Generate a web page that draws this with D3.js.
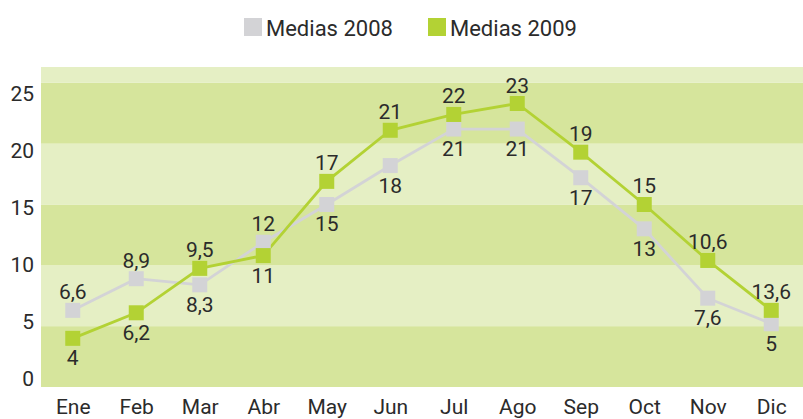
<!DOCTYPE html>
<html><head><meta charset="utf-8">
<script src="https://cdn.jsdelivr.net/npm/d3@7"></script>
<style>
html,body{margin:0;padding:0;background:#fff;}
svg{display:block;font-family:Roboto, "DejaVu Sans", sans-serif;}
</style></head>
<body>
<svg id="chart" width="803" height="419"></svg>
<script>
const months = ["Ene","Feb","Mar","Abr","May","Jun","Jul","Ago","Sep","Oct","Nov","Dic"];
const seriesNames = ["Medias 2008","Medias 2009"];
const values2008 = [6.3, 8.9, 8.4, 11.9, 15, 18.2, 21.2, 21.2, 17.2, 13, 7.3, 5.2];
const values2009 = [4.0, 6.1, 9.75, 10.8, 16.9, 21.1, 22.4, 23.3, 19.3, 15, 10.4, 6.3];
const labels2008 = ["6,6","8,9","8,3","12","15","18","21","21","17","13","7,6","5"];
const labels2009 = ["4","6,2","9,5","11","17","21","22","23","19","15","10,6","13,6"];
const yTicks = [0, 5, 10, 15, 20, 25];

const colors = ["#d3d3d6", "#b3d234"];
const bandDark = "#d6e59c", bandLight = "#e5efc4";
const textColor = "#2b2b2b";

const svg = d3.select("#chart");
const pLeft = 41, pRight = 803, pTop = 67, pBottom = 387;

const x = d3.scalePoint().domain(months).range([pLeft, pRight]).padding(0.5);
const y = d3.scaleLinear().domain([0, 26.3]).range([pBottom, pTop]);
const yLab = d3.scaleLinear().domain([0, 25]).range([378, 93]);

// bands
const bandEdges = yTicks.map((t, i) => [t, i < yTicks.length - 1 ? yTicks[i + 1] : y.domain()[1]]);
svg.append("g").selectAll("rect").data(bandEdges).join("rect")
  .attr("x", pLeft).attr("width", pRight - pLeft)
  .attr("y", d => y(d[1])).attr("height", d => y(d[0]) - y(d[1]))
  .attr("fill", (d, i) => i % 2 === 0 ? bandDark : bandLight);

// y axis labels
const yAxis = d3.axisLeft(yLab).tickValues(yTicks).tickSize(0).tickPadding(0);
const gy = svg.append("g").attr("transform", "translate(34,0)").call(yAxis);
gy.select(".domain").remove();
gy.selectAll("text").attr("font-size", 21).attr("fill", textColor)
  .attr("font-family", "Roboto, sans-serif").attr("dy", "0.36em");

// x axis labels
const xAxis = d3.axisBottom(x).tickSize(0).tickPadding(0);
const gx = svg.append("g").attr("transform", "translate(0,414)").call(xAxis);
gx.select(".domain").remove();
gx.selectAll("text").attr("font-size", 21).attr("fill", textColor)
  .attr("font-family", "Roboto, sans-serif").attr("dy", "0");

const series = [
  {name: seriesNames[0], values: values2008, labels: labels2008, other: values2009, color: colors[0]},
  {name: seriesNames[1], values: values2009, labels: labels2009, other: values2008, color: colors[1]}
];

const line = d3.line().x((d, i) => x(months[i])).y(d => y(d));
const ms = 15;

series.forEach(s => {
  svg.append("path").datum(s.values)
    .attr("d", line).attr("fill", "none")
    .attr("stroke", s.color).attr("stroke-width", 2.8);
});
series.forEach(s => {
  svg.append("g").selectAll("rect").data(s.values).join("rect")
    .attr("x", (d, i) => x(months[i]) - ms / 2)
    .attr("y", d => y(d) - ms / 2)
    .attr("width", ms).attr("height", ms)
    .attr("fill", s.color);
});
series.forEach(s => {
  svg.append("g").selectAll("text").data(s.values).join("text")
    .attr("x", (d, i) => x(months[i]))
    .attr("y", (d, i) => d >= s.other[i] ? y(d) - 11 : y(d) + 27)
    .attr("text-anchor", "middle")
    .attr("font-size", 21).attr("fill", textColor)
    .text((d, i) => s.labels[i]);
});

// legend
const legend = svg.append("g");
const legX = [244, 428];
series.forEach((s, i) => {
  legend.append("rect").attr("x", legX[i]).attr("y", 18).attr("width", 18).attr("height", 18).attr("fill", s.color);
  legend.append("text").attr("x", legX[i] + 22).attr("y", 36)
    .attr("font-size", 22).attr("fill", textColor).text(s.name);
});
</script>
</body></html>
